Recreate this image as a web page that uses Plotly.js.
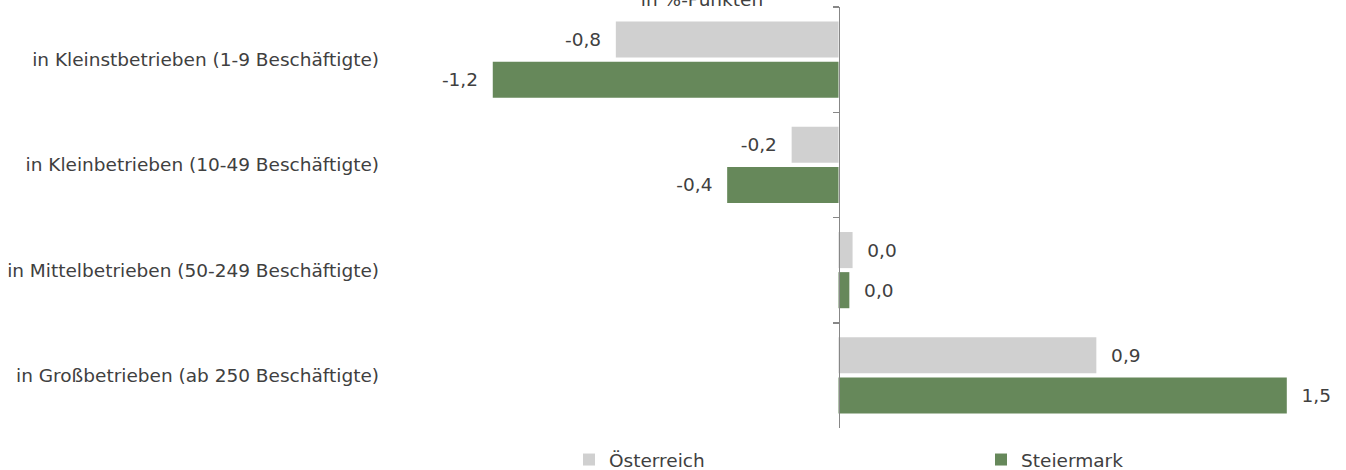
<!DOCTYPE html>
<html>
<head>
<meta charset="utf-8">
<script src="https://cdn.plot.ly/plotly-3.0.1.min.js"></script>
<style>html,body{margin:0;padding:0;background:#fff;}#chart{width:1346px;height:470px;}</style>
</head>
<body>
<div id="chart"></div>
<script>
var categories = [
  'in Kleinstbetrieben (1-9 Beschäftigte)',
  'in Kleinbetrieben (10-49 Beschäftigte)',
  'in Mittelbetrieben (50-249 Beschäftigte)',
  'in Großbetrieben (ab 250 Beschäftigte)'
];
var oesterreich = [-0.76, -0.16, 0.048, 0.88];
var steiermark = [-1.18, -0.38, 0.037, 1.53];
var seriesNames = ['Österreich', 'Steiermark'];
var titleText = 'in %-Punkten';

var NB = '\u00a0\u00a0';
function label(v) {
  var s = v.toFixed(1).replace('.', ',');
  return v < 0 ? s + NB : NB + s;
}

var xmin = -1.5137, xmax = 1.6638;
var txtFont = {family: 'DejaVu Sans, sans-serif', size: 18.5, color: '#404040'};

var traces = [
  {type: 'bar', orientation: 'h', name: seriesNames[0], y: categories, x: oesterreich,
   marker: {color: '#d0d0d0'}, text: oesterreich.map(label), textposition: 'outside',
   textfont: txtFont, outsidetextfont: txtFont, cliponaxis: false, hoverinfo: 'x+y',
   legend: 'legend'},
  {type: 'bar', orientation: 'h', name: seriesNames[1], y: categories, x: steiermark,
   marker: {color: '#66885a'}, text: steiermark.map(label), textposition: 'outside',
   textfont: txtFont, outsidetextfont: txtFont, cliponaxis: false, hoverinfo: 'x+y',
   legend: 'legend2'},
  {type: 'scatter', mode: 'markers', y: categories, x: [null, null, null, null],
   yaxis: 'y2', showlegend: false, hoverinfo: 'skip'}
];

var layout = {
  width: 1346, height: 470,
  margin: {l: 395, r: 20, t: 7, b: 42},
  paper_bgcolor: '#ffffff', plot_bgcolor: '#ffffff',
  font: txtFont,
  barmode: 'group', bargap: 0.238, bargroupgap: 0.1,
  title: {text: titleText, font: txtFont, xref: 'container', x: 702 / 1346, xanchor: 'center',
          yref: 'container', y: 1, yanchor: 'middle'},
  xaxis: {range: [xmin, xmax], showgrid: false, zeroline: false, showticklabels: false,
          showline: false, ticks: '', fixedrange: true},
  yaxis: {type: 'category', categoryorder: 'array', categoryarray: categories,
          range: [3.5, -0.5], showline: false, showgrid: false, ticks: '',
          ticklabelstandoff: 15, tickfont: txtFont, fixedrange: true},
  yaxis2: {type: 'category', categoryorder: 'array', categoryarray: categories,
           range: [3.5, -0.5], overlaying: 'y', anchor: 'free', side: 'left',
           position: (0 - xmin) / (xmax - xmin),
           showline: true, linecolor: '#878787', linewidth: 1.5,
           ticks: 'outside', tickson: 'boundaries', ticklen: 6, tickwidth: 1.5, tickcolor: '#878787',
           showticklabels: false, showgrid: false, fixedrange: true},
  showlegend: true,
  legend: {orientation: 'h', xref: 'container', x: 569 / 1346, xanchor: 'left',
           yref: 'container', y: 10 / 470, yanchor: 'middle', font: txtFont},
  legend2: {orientation: 'h', xref: 'container', x: 981 / 1346, xanchor: 'left',
            yref: 'container', y: 10 / 470, yanchor: 'middle', font: txtFont}
};

Plotly.newPlot('chart', traces, layout, {displayModeBar: false, staticPlot: true});
</script>
</body>
</html>
